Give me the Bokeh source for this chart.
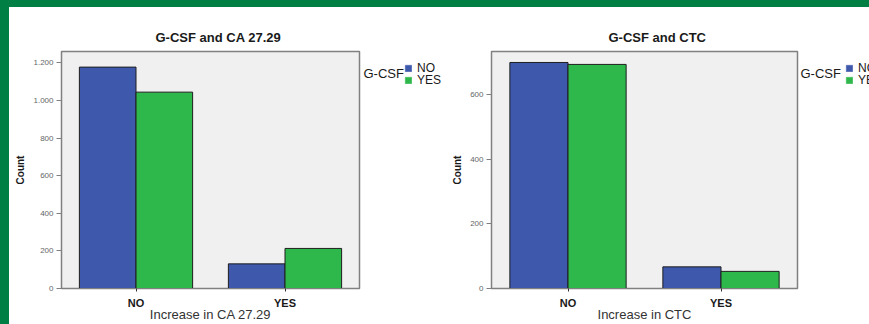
from bokeh.plotting import figure
from bokeh.models import FactorRange, Range1d, FixedTicker, Spacer, Legend, LegendItem, Label
from bokeh.layouts import row, column
from bokeh.transform import dodge
from bokeh.embed import file_html
from bokeh.resources import INLINE

# ---- data ----
categories = ["NO", "YES"]
series_labels = ["NO", "YES"]
legend_title = "G-CSF"

ca_gcsf_no = [1177, 131]
ca_gcsf_yes = [1044, 213]
ca_ticks = [0, 200, 400, 600, 800, 1000, 1200]
ca_tick_labels = ["0", "200", "400", "600", "800", "1.000", "1.200"]

ctc_gcsf_no = [700, 67]
ctc_gcsf_yes = [694, 53]
ctc_ticks = [0, 200, 400, 600]
ctc_tick_labels = ["0", "200", "400", "600"]

# ---- style ----
FONT = "Liberation Sans"
BLUE = "#3e58ac"
GREEN = "#2eb84b"
FRAME_GREEN = "#007f44"
H = 317
B_TOP = 44
B_BOTTOM = 32
FRAME_H = H - B_TOP - B_BOTTOM


def make_chart(title, xlabel, no_vals, yes_vals, ymax, ticks, tick_labels,
               width, b_left, b_right, title_offset):
    p = figure(x_range=FactorRange(*categories, range_padding=0),
               y_range=Range1d(0, ymax),
               width=width, height=H,
               min_border_left=b_left, min_border_right=b_right,
               min_border_top=B_TOP, min_border_bottom=B_BOTTOM,
               output_backend="svg", toolbar_location=None,
               title=title)
    src = dict(cat=categories, no=no_vals, yes=yes_vals)
    p.vbar(x=dodge("cat", -0.19, range=p.x_range), top="no", width=0.38,
           source=src, fill_color=BLUE, line_color="#1e1e1e", line_width=1)
    p.vbar(x=dodge("cat", 0.19, range=p.x_range), top="yes", width=0.38,
           source=src, fill_color=GREEN, line_color="#1e1e1e", line_width=1)

    p.background_fill_color = "#f0f0f0"
    p.border_fill_color = "white"
    p.outline_line_color = "#808080"
    p.outline_line_width = 1.5
    p.grid.visible = False

    p.title.text_font = FONT
    p.title.text_font_size = "13px"
    p.title.text_font_style = "bold"
    p.title.text_color = "#1a1a1a"
    p.title.align = "left"
    p.title.offset = title_offset
    p.title.standoff = 14

    yax = p.yaxis[0]
    yax.ticker = FixedTicker(ticks=ticks)
    yax.major_label_overrides = {t: l for t, l in zip(ticks, tick_labels)}
    yax.major_label_text_font = FONT
    yax.major_label_text_font_size = "8px"
    yax.major_label_text_color = "#666666"
    yax.major_tick_out = 5
    yax.major_tick_in = 0
    yax.minor_tick_line_color = None
    yax.major_label_standoff = 3
    yax.axis_line_color = "#808080"
    yax.major_tick_line_color = "#808080"
    yax.axis_label = "Count"
    yax.axis_label_text_font = FONT
    yax.axis_label_text_font_size = "10px"
    yax.axis_label_text_font_style = "bold"
    yax.axis_label_text_color = "#1a1a1a"
    yax.axis_label_standoff = 4

    xax = p.xaxis[0]
    xax.major_label_text_font = FONT
    xax.major_label_text_font_size = "11px"
    xax.major_label_text_font_style = "bold"
    xax.major_label_text_color = "#1a1a1a"
    xax.major_tick_out = 3
    xax.major_tick_in = 0
    xax.major_label_standoff = 5
    xax.axis_line_color = "#808080"
    xax.major_tick_line_color = "#333333"
    xax.axis_label = xlabel
    xax.axis_label_text_font = FONT
    xax.axis_label_text_font_size = "13px"
    xax.axis_label_text_font_style = "normal"
    xax.axis_label_text_color = "#333333"
    xax.axis_label_standoff = -5
    return p


def make_legend(width, swatch_x, title_x, item_y, title_y):
    # frame aligned with the charts' frames; data y = pixels below frame top
    q = figure(width=width, height=H, x_range=Range1d(0, width),
               y_range=Range1d(FRAME_H, 0),
               min_border_left=0, min_border_right=0,
               min_border_top=B_TOP, min_border_bottom=B_BOTTOM,
               output_backend="svg", toolbar_location=None)
    q.axis.visible = False
    q.grid.visible = False
    q.outline_line_color = None
    q.background_fill_color = "white"
    q.border_fill_color = "white"
    colors = [BLUE, GREEN]
    for label, color, vy in zip(series_labels, colors, item_y):
        r = q.vbar(x=[0], top=[0], width=1, fill_color=color, line_color=color,
                   line_width=0.5, visible=False)
        lg = Legend(items=[LegendItem(label=label, renderers=[r])])
        lg.location = (swatch_x, vy)
        lg.border_line_color = None
        lg.background_fill_alpha = 0
        lg.inactive_fill_alpha = 0
        lg.padding = 0
        lg.margin = 0
        lg.spacing = 0
        lg.glyph_width = 8
        lg.glyph_height = 8
        lg.label_height = 8
        lg.label_standoff = 5
        lg.label_text_font = FONT
        lg.label_text_font_size = "12px"
        lg.label_text_color = "#1a1a1a"
        q.add_layout(lg, "center")
    q.add_layout(Label(x=title_x, y=title_y, text=legend_title, text_font=FONT,
                       text_font_size="13px", text_color="#1a1a1a",
                       text_baseline="middle", text_align="left"))
    return q


p1 = make_chart("G-CSF and CA 27.29", "Increase in CA 27.29",
                ca_gcsf_no, ca_gcsf_yes, 1260, ca_ticks, ca_tick_labels,
                352, 52, 2, 94)
l1 = make_legend(88, 43, 2, [213, 201], 22)
p2 = make_chart("G-CSF and CTC", "Increase in CTC",
                ctc_gcsf_no, ctc_gcsf_yes, 734, ctc_ticks, ctc_tick_labels,
                350, 42, 2, 117)
l2 = make_legend(70, 46, 1, [213, 201], 22)

top_bar = Spacer(width=869, height=7, styles={"background-color": FRAME_GREEN})
left_bar = Spacer(width=9, height=H, styles={"background-color": FRAME_GREEN})
layout = column(top_bar, row(left_bar, p1, l1, p2, l2, spacing=0), spacing=0)

open("out.html", "w").write(file_html(layout, INLINE))
